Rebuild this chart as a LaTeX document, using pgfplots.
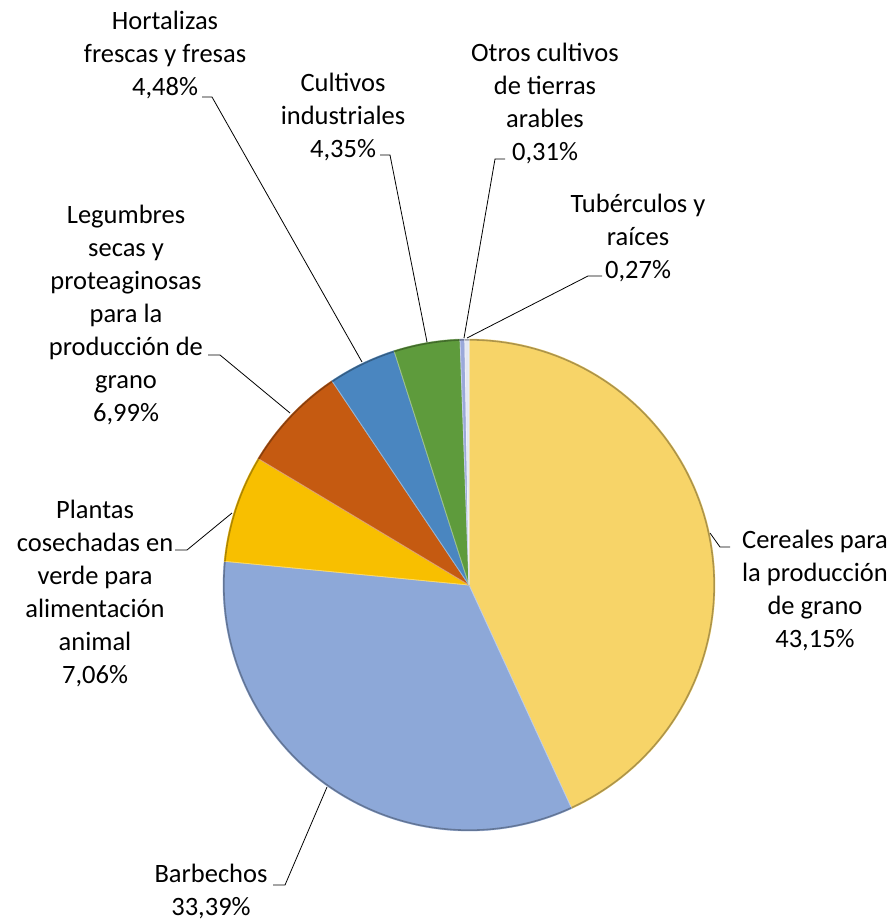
\documentclass[border=0pt]{standalone}
\usepackage{pgfplots}
\pgfplotsset{compat=1.18}
\usepackage{fontspec}
\setmainfont{Carlito}
\definecolor{cCer}{HTML}{F7D468}
\definecolor{cBar}{HTML}{8DA8D8}
\definecolor{cPla}{HTML}{F8BF00}
\definecolor{cLeg}{HTML}{C55A11}
\definecolor{cHor}{HTML}{4A86C0}
\definecolor{cInd}{HTML}{5E9B3C}
\definecolor{cOtr}{HTML}{9AA8DA}
\definecolor{cTub}{HTML}{E4E8F2}
\definecolor{txt}{HTML}{000000}
\newcommand\cx{469}
\newcommand\cy{585}
\newcommand\rr{246}
\gdef\cum{0}
\newcommand\slice[2]{%
  \pgfmathsetmacro\sa{\cum*3.6}%
  \pgfmathsetmacro\sb{(\cum+#1)*3.6}%
  \edef\doslice{\noexpand\addplot[fill=#2, draw=#2!60!white, line width=0.8pt, line join=round, domain=\sa:\sb, samples=90, variable=\noexpand\t] ({\cx+\rr*sin(\noexpand\t)},{\cy-\rr*cos(\noexpand\t)}) -- (axis cs:\cx,\cy) -- cycle;
  \noexpand\addplot[draw=#2!70!black, line width=1.6pt, domain=\sa:\sb, samples=90, variable=\noexpand\t] ({\cx+(\rr-0.8)*sin(\noexpand\t)},{\cy-(\rr-0.8)*cos(\noexpand\t)});}%
  \doslice
  \pgfmathsetmacro\newcum{\cum+#1}\global\let\cum\newcum
}
\newcommand\lf{\fontsize{26.5}{33}\selectfont}
\begin{document}
\begin{tikzpicture}
\begin{axis}[scale only axis, width=894pt, height=920pt,
  xmin=0, xmax=894, ymin=0, ymax=920, y dir=reverse,
  hide axis, clip=false]
\path (axis cs:0,0) rectangle (axis cs:894,920);
% values in percent, clockwise from 12 o'clock
\slice{43.15}{cCer}
\slice{33.39}{cBar}
\slice{7.06}{cPla}
\slice{6.99}{cLeg}
\slice{4.48}{cHor}
\slice{4.35}{cInd}
\slice{0.31}{cOtr}
\slice{0.27}{cTub}
% leader lines
\begin{scope}[line width=0.8pt, black]
\draw (axis cs:730,547) -- (axis cs:720,547) -- (axis cs:710,533);
\draw (axis cs:273,885) -- (axis cs:285,885) -- (axis cs:327,787);
\draw (axis cs:175,550) -- (axis cs:187,550) -- (axis cs:232,513);
\draw (axis cs:208,355) -- (axis cs:220,355) -- (axis cs:290,413);
\draw (axis cs:202,97) -- (axis cs:212,97) -- (axis cs:362,362);
\draw (axis cs:380,155) -- (axis cs:390,155) -- (axis cs:427,342);
\draw (axis cs:505,159) -- (axis cs:495,159) -- (axis cs:464,338);
\draw (axis cs:602,276) -- (axis cs:588,276) -- (axis cs:467,338);
\end{scope}
% labels
\begin{scope}[every node/.style={align=center, font=\lf, text=txt, inner sep=0pt}]
\node at (axis cs:815,590) {Cereales para\\la producción\\de grano\\43,15\%};
\node at (axis cs:211,891) {Barbechos\\33,39\%};
\node at (axis cs:95,593) {Plantas\\cosechadas en\\verde para\\alimentación\\animal\\7,06\%};
\node at (axis cs:126,315) {Legumbres\\secas y\\proteaginosas\\para la\\producción de\\grano\\6,99\%};
\node at (axis cs:165,55) {Hortalizas\\frescas y fresas\\4,48\%};
\node at (axis cs:343,117) {Cultivos\\industriales\\4,35\%};
\node at (axis cs:545,103) {Otros cultivos\\de tierras\\arables\\0,31\%};
\node at (axis cs:638,238) {Tubérculos y\\raíces\\0,27\%};
\end{scope}
\end{axis}
\end{tikzpicture}
\end{document}
